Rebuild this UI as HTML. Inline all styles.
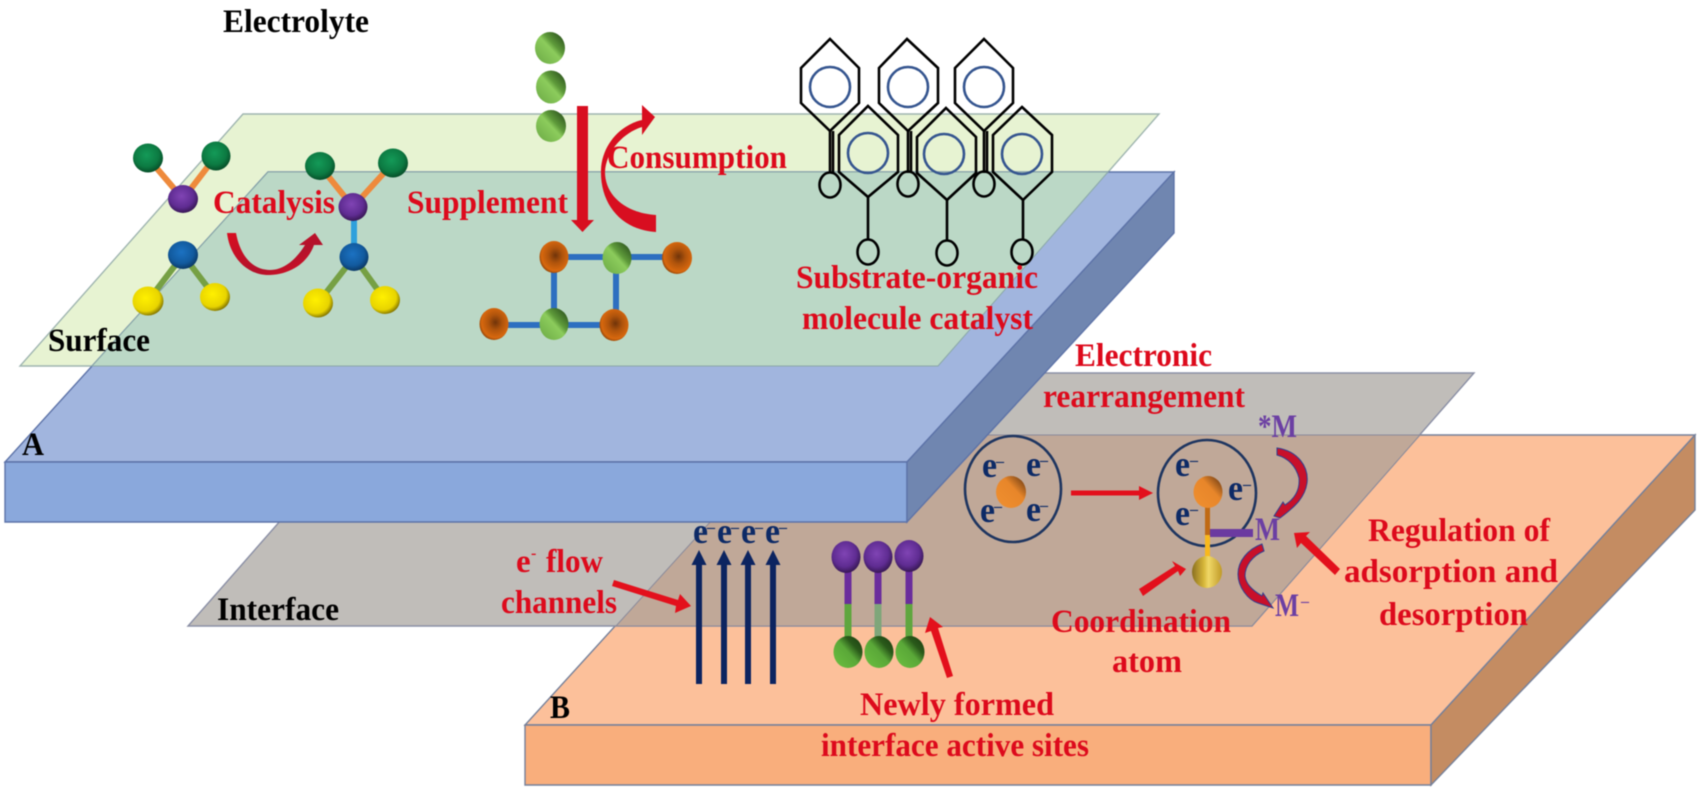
<!DOCTYPE html>
<html>
<head>
<meta charset="utf-8">
<style>
html,body{margin:0;padding:0;background:#fff;width:1700px;height:798px;overflow:hidden}
svg{display:block;filter:blur(.45px)}
text{font-family:"Liberation Serif",serif;font-weight:bold;font-size:33px}
.r{fill:#dd0a1c}
.k{fill:#000}
.n{fill:#0d2a66;font-size:36px}
.ns{fill:#0d2a66;font-size:16px}
.p{fill:#6b3fa3;font-size:33px}
</style>
</head>
<body>
<svg width="1700" height="798" viewBox="0 0 1700 798" xmlns="http://www.w3.org/2000/svg">
<defs>
<radialGradient id="gG" cx=".45" cy=".4" r=".62"><stop offset="0" stop-color="#149a58"/><stop offset=".65" stop-color="#0c7a42"/><stop offset="1" stop-color="#064a26"/></radialGradient>
<radialGradient id="gP" cx=".45" cy=".4" r=".62"><stop offset="0" stop-color="#8044b4"/><stop offset=".65" stop-color="#5f2c92"/><stop offset="1" stop-color="#34164f"/></radialGradient>
<radialGradient id="gB" cx=".45" cy=".4" r=".62"><stop offset="0" stop-color="#1c72c2"/><stop offset=".65" stop-color="#125a9e"/><stop offset="1" stop-color="#0a3560"/></radialGradient>
<radialGradient id="gY" cx=".42" cy=".4" r=".65"><stop offset="0" stop-color="#fff000"/><stop offset=".7" stop-color="#e8d400"/><stop offset="1" stop-color="#6e6200"/></radialGradient>
<linearGradient id="gL" x1="0" y1="1" x2="1" y2="0"><stop offset="0" stop-color="#6aa844"/><stop offset=".5" stop-color="#8ccc5c"/><stop offset=".62" stop-color="#5e9a3a"/><stop offset="1" stop-color="#1e3f16"/></linearGradient>
<radialGradient id="gO" cx=".55" cy=".45" r=".6"><stop offset="0" stop-color="#70340a"/><stop offset=".4" stop-color="#b0540c"/><stop offset=".8" stop-color="#d8680e"/><stop offset="1" stop-color="#7a3a08"/></radialGradient>
<linearGradient id="gA" x1="0" y1="1" x2="1" y2="0"><stop offset="0" stop-color="#f09030"/><stop offset=".6" stop-color="#e8862a"/><stop offset="1" stop-color="#5a3010"/></linearGradient>
<linearGradient id="gD" x1="0" y1="0" x2="1" y2="0"><stop offset="0" stop-color="#8a7020"/><stop offset=".4" stop-color="#d8b83a"/><stop offset=".55" stop-color="#f0d868"/><stop offset="1" stop-color="#c09a28"/></linearGradient>
<linearGradient id="gN" x1="0" y1="1" x2="1" y2="0"><stop offset="0" stop-color="#6cc040"/><stop offset=".5" stop-color="#5aa838"/><stop offset=".7" stop-color="#2a5a1a"/><stop offset="1" stop-color="#1c3a10"/></linearGradient>
<linearGradient id="gR" x1="0" y1="0" x2="1" y2="1"><stop offset="0" stop-color="#d80e20"/><stop offset=".6" stop-color="#b3122c"/><stop offset="1" stop-color="#e01020"/></linearGradient>
</defs>

<!-- Orange slab -->
<g stroke="#75809a" stroke-width="1.4">
<polygon points="789,435 1695,435 1431,725 525,725" fill="#fcc09a"/>
<polygon points="525,725 1431,725 1431,785 525,785" fill="#f9ae7c"/>
<polygon points="1431,725 1695,435 1695,510 1431,785" fill="#c48c62"/>
</g>
<!-- Gray plane -->
<polygon points="410,373 1474,373 1252,626 188,626" fill="#c0bdb9" stroke="#8a8fa5" stroke-width="1.4"/>
<polygon points="789,435 1420,435 1252,626 616,626" fill="#c0a898" stroke="#8a8a9a" stroke-width="1"/>

<!-- Green plane base -->
<polygon points="243,114 1159,114 938,366 20,366" fill="#e7f3d2" stroke="#9fb5b0" stroke-width="1.4"/>
<!-- Blue slab -->
<g stroke="#5d73a8" stroke-width="1.4">
<polygon points="268,172 1174,172 907,462 5,462" fill="#a1b5de"/>
<polygon points="5,462 907,462 907,522 5,522" fill="#8aa8dc"/>
<polygon points="907,462 1174,172 1174,233 907,522" fill="#7086b0"/>
</g>
<polygon points="268,172 1108,172 938,366 92,366" fill="#bbd8c6" stroke="#8aa8a8" stroke-width="1"/>

<!-- Molecule bonds -->
<g stroke-width="6" fill="none">
<path d="M148 158L183 199M216 156L183 199" stroke="#ee8a3c"/>
<path d="M183 255L148 301M183 255L215 297" stroke="#76a044"/>
<path d="M320 166L353 207M393 163L353 207" stroke="#ee8a3c"/>
<path d="M354 207V257" stroke="#2ea0dc"/>
<path d="M354 257L318 303M354 257L385 300" stroke="#76a044"/>
<path d="M554 257H677M494 325H614M554 257V324M616 258V325" stroke="#2d6fc0"/>
</g>
<g>
<ellipse cx="148" cy="158" rx="15" ry="14.500" fill="url(#gG)"/><ellipse cx="216" cy="156" rx="14.500" ry="14.500" fill="url(#gG)"/>
<ellipse cx="183" cy="199" rx="15" ry="14" fill="url(#gP)"/><ellipse cx="183" cy="255" rx="15" ry="14" fill="url(#gB)"/>
<ellipse cx="148" cy="301" rx="15.500" ry="14.500" fill="url(#gY)"/><ellipse cx="215" cy="297" rx="15" ry="14" fill="url(#gY)"/>
<ellipse cx="320" cy="166" rx="15" ry="14" fill="url(#gG)"/><ellipse cx="393" cy="163" rx="15" ry="14.500" fill="url(#gG)"/>
<ellipse cx="353" cy="207" rx="14.500" ry="14" fill="url(#gP)"/><ellipse cx="354" cy="257" rx="14.500" ry="14" fill="url(#gB)"/>
<ellipse cx="318" cy="303" rx="15" ry="14.500" fill="url(#gY)"/><ellipse cx="385" cy="300" rx="15" ry="14" fill="url(#gY)"/>
<ellipse cx="550" cy="48" rx="15" ry="16" fill="url(#gL)"/><ellipse cx="551" cy="87" rx="15" ry="16.500" fill="url(#gL)"/><ellipse cx="551" cy="126" rx="15" ry="16" fill="url(#gL)"/>
<ellipse cx="554" cy="257" rx="14.500" ry="16" fill="url(#gO)"/><ellipse cx="617" cy="258" rx="14.500" ry="16" fill="url(#gL)"/><ellipse cx="677" cy="258" rx="15" ry="16" fill="url(#gO)"/>
<ellipse cx="494" cy="324" rx="14.500" ry="16" fill="url(#gO)"/><ellipse cx="554" cy="324" rx="14.500" ry="16" fill="url(#gL)"/><ellipse cx="614" cy="325" rx="14.500" ry="16" fill="url(#gO)"/>
</g>

<!-- Supplement arrow -->
<polygon points="577,106 588,106 588,220 594,220 582.500,232 571,220 577,220" fill="#d80e20"/>
<!-- Consumption curved arrow -->
<path d="M656 232C622 230 600 205 601 170C602 145 620 125 642 120L642 105L655 117L642 135L642 127C625 132 606 150 605 172C605 195 625 213 656 215Z" fill="#d80e20"/>
<!-- Catalysis curved arrow -->
<path d="M227 233C230 258 248 276 270 275C292 274 308 262 314 245L323 245L315 233L299 245L305 245C297 258 285 270 270 270C252 270 240 255 236 233Z" fill="url(#gR)"/>

<!-- Organic catalyst -->
<g fill="none" stroke="#000" stroke-width="2.6">
<polygon points="830,39 859,68 859,103 830,131 801,103 801,68"/>
<polygon points="907,39 938,68 938,103 908,131 879,103 879,68"/>
<polygon points="984,39 1013,68 1013,103 984,131 955,103 955,68"/>
<polygon points="868,106 898,135 898,172 868,197 839,172 839,135"/>
<polygon points="946,108 976,137 976,173 947,200 917,173 917,137"/>
<polygon points="1022,107 1052,135 1052,172 1023,200 993,172 993,135"/>
<path d="M830 131V173M833 131V173M908 131V173M911 131V173M984 131V173M987 131V173"/>
<path d="M868 197V240M947 200V240M1023 200V240"/>
<ellipse cx="830" cy="185" rx="10.500" ry="12.500"/><ellipse cx="908" cy="184" rx="10.500" ry="12.500"/><ellipse cx="984" cy="184" rx="10.500" ry="12.500"/>
<ellipse cx="868" cy="252" rx="10.500" ry="12.500"/><ellipse cx="947" cy="253" rx="10.500" ry="12.500"/><ellipse cx="1022" cy="252" rx="10.500" ry="12.500"/>
</g>
<g fill="none" stroke="#35558f" stroke-width="2.6">
<circle cx="830" cy="87" r="20"/><circle cx="908" cy="87" r="20"/><circle cx="984" cy="87" r="20"/>
<circle cx="868" cy="153" r="20"/><circle cx="944" cy="154" r="20"/><circle cx="1022" cy="154" r="20"/>
</g>

<!-- Electron circles -->
<g fill="none" stroke="#1e3560" stroke-width="2.6">
<ellipse cx="1013" cy="489" rx="48" ry="53"/>
<ellipse cx="1207" cy="493" rx="49" ry="53"/>
</g>
<ellipse cx="1011" cy="492" rx="15" ry="16" fill="url(#gA)"/>
<rect x="1205" y="492" width="5" height="43" fill="#c06a14"/>
<rect x="1205" y="535" width="5" height="24" fill="#f8b81c"/>
<rect x="1210" y="529" width="43" height="8" fill="#6b3aa0"/>
<ellipse cx="1208" cy="492" rx="14.500" ry="16" fill="url(#gA)"/>
<ellipse cx="1207" cy="572" rx="15" ry="16" fill="url(#gD)"/>

<text class="n" x="982" y="477" textLength="15" lengthAdjust="spacingAndGlyphs">e</text><text class="ns" x="996" y="466">–</text>
<text class="n" x="1026" y="476" textLength="15" lengthAdjust="spacingAndGlyphs">e</text><text class="ns" x="1040" y="465">–</text>
<text class="n" x="980" y="522" textLength="15" lengthAdjust="spacingAndGlyphs">e</text><text class="ns" x="994" y="511">–</text>
<text class="n" x="1026" y="521" textLength="15" lengthAdjust="spacingAndGlyphs">e</text><text class="ns" x="1040" y="510">–</text>
<text class="n" x="1175" y="476" textLength="15" lengthAdjust="spacingAndGlyphs">e</text><text class="ns" x="1190" y="465">–</text>
<text class="n" x="1228" y="500" textLength="15" lengthAdjust="spacingAndGlyphs">e</text><text class="ns" x="1243" y="489">–</text>
<text class="n" x="1175" y="525" textLength="15" lengthAdjust="spacingAndGlyphs">e</text><text class="ns" x="1190" y="514">–</text>

<!-- e- channels -->
<text class="n" x="693" y="543" textLength="15" lengthAdjust="spacingAndGlyphs">e</text><text class="ns" x="707" y="532">–</text>
<text class="n" x="717" y="543" textLength="15" lengthAdjust="spacingAndGlyphs">e</text><text class="ns" x="731" y="532">–</text>
<text class="n" x="741" y="543" textLength="15" lengthAdjust="spacingAndGlyphs">e</text><text class="ns" x="755" y="532">–</text>
<text class="n" x="765" y="543" textLength="15" lengthAdjust="spacingAndGlyphs">e</text><text class="ns" x="779" y="532">–</text>
<g fill="#0c2460">
<polygon points="696,684 702,684 702,565 706.500,565 699,550 691.500,565 696,565"/>
<polygon points="721,684 727,684 727,565 731.500,565 724,550 716.500,565 721,565"/>
<polygon points="745,684 751,684 751,565 755.500,565 748,550 740.500,565 745,565"/>
<polygon points="770,684 776,684 776,565 780.500,565 773,550 765.500,565 770,565"/>
</g>

<!-- Interface active sites -->
<g>
<rect x="844.500" y="560" width="7" height="44" fill="#6a2d9c"/><rect x="844.500" y="604" width="7" height="36" fill="#5fa63e"/>
<rect x="874.500" y="560" width="7" height="44" fill="#6a2d9c"/><rect x="874.500" y="604" width="7" height="36" fill="#7fa67a"/>
<rect x="905.500" y="560" width="7" height="44" fill="#6a2d9c"/><rect x="905.500" y="604" width="7" height="36" fill="#5fa63e"/>
<ellipse cx="846" cy="557" rx="14.500" ry="16" fill="url(#gP)"/><ellipse cx="878" cy="557" rx="14.500" ry="16" fill="url(#gP)"/><ellipse cx="909" cy="556" rx="14.500" ry="16" fill="url(#gP)"/>
<ellipse cx="848" cy="652" rx="14.500" ry="16" fill="url(#gN)"/><ellipse cx="879" cy="652" rx="14.500" ry="16" fill="url(#gN)"/><ellipse cx="910" cy="652" rx="14.500" ry="16" fill="url(#gN)"/>
</g>

<!-- Straight red arrows -->
<g fill="#e3101c">
<polygon points="1071,490.500 1139,490.500 1139,486 1153,493 1139,500 1139,495.500 1071,495.500"/>
<polygon points="1139,589 1175,566 1172,561 1186,569 1180,576 1178,571 1143,596"/>
<polygon points="1340,569 1306,536 1310,532 1294,533 1297,548 1301,543 1335,575"/>
<polygon points="614,580 678,600 680,594 691,606 675,613 676,606 612,586"/>
<polygon points="953,676 938,628 943,627 930,617 925,633 931,631 947,678"/>
</g>

<!-- M curved arrows -->
<g fill="#c8102a" stroke="#2f3f90" stroke-width="1">
<path d="M1277 448C1298 451 1309 467 1307 483C1305 497 1296 506 1280 518L1274 516L1283 502L1285 505C1296 498 1300 489 1299 478C1296 466 1288 458 1277 455Z"/>
<path d="M1262 544L1264 551C1252 556 1245 566 1245 576C1246 584 1252 590 1262 596L1263 593L1273 608L1258 603C1248 600 1238 587 1238 574C1238 561 1248 549 1262 544Z"/>
</g>

<!-- Labels -->
<text class="k" x="223" y="32" textLength="146" lengthAdjust="spacingAndGlyphs">Electrolyte</text>
<text class="k" x="48" y="351" textLength="102" lengthAdjust="spacingAndGlyphs">Surface</text>
<text class="k" x="22" y="455" textLength="22" lengthAdjust="spacingAndGlyphs">A</text>
<text class="k" x="550" y="718" textLength="20" lengthAdjust="spacingAndGlyphs">B</text>
<text class="k" x="217" y="620" textLength="122" lengthAdjust="spacingAndGlyphs">Interface</text>
<text class="r" x="213" y="213" textLength="122" lengthAdjust="spacingAndGlyphs">Catalysis</text>
<text class="r" x="407" y="213" textLength="161" lengthAdjust="spacingAndGlyphs">Supplement</text>
<text class="r" x="607" y="168" textLength="180" lengthAdjust="spacingAndGlyphs">Consumption</text>
<text class="r" x="796" y="288" textLength="242" lengthAdjust="spacingAndGlyphs">Substrate-organic</text>
<text class="r" x="802" y="329" textLength="231" lengthAdjust="spacingAndGlyphs">molecule catalyst</text>
<text class="r" x="1075" y="366" textLength="137" lengthAdjust="spacingAndGlyphs">Electronic</text>
<text class="r" x="1043" y="407" textLength="202" lengthAdjust="spacingAndGlyphs">rearrangement</text>
<text class="r" x="1368" y="541" textLength="182" lengthAdjust="spacingAndGlyphs">Regulation of</text>
<text class="r" x="1344" y="582" textLength="214" lengthAdjust="spacingAndGlyphs">adsorption and</text>
<text class="r" x="1379" y="625" textLength="149" lengthAdjust="spacingAndGlyphs">desorption</text>
<text class="r" x="1051" y="632" textLength="180" lengthAdjust="spacingAndGlyphs">Coordination</text>
<text class="r" x="1112" y="672" textLength="70" lengthAdjust="spacingAndGlyphs">atom</text>
<text class="r" x="860" y="715" textLength="194" lengthAdjust="spacingAndGlyphs">Newly formed</text>
<text class="r" x="821" y="756" textLength="268" lengthAdjust="spacingAndGlyphs">interface active sites</text>
<text class="r" x="516" y="572">e</text>
<text class="r" style="font-size:16px" x="531" y="558">-</text>
<text class="r" x="546" y="572" textLength="57" lengthAdjust="spacingAndGlyphs">flow</text>
<text class="r" x="501" y="613" textLength="116" lengthAdjust="spacingAndGlyphs">channels</text>
<text class="p" x="1258" y="437" textLength="39" lengthAdjust="spacingAndGlyphs">*M</text>
<text class="p" x="1255" y="540" textLength="25" lengthAdjust="spacingAndGlyphs">M</text>
<text class="p" x="1275" y="616" textLength="24" lengthAdjust="spacingAndGlyphs">M</text>
<text class="p" style="font-size:16px" x="1301" y="606">–</text>
</svg>
</body>
</html>
